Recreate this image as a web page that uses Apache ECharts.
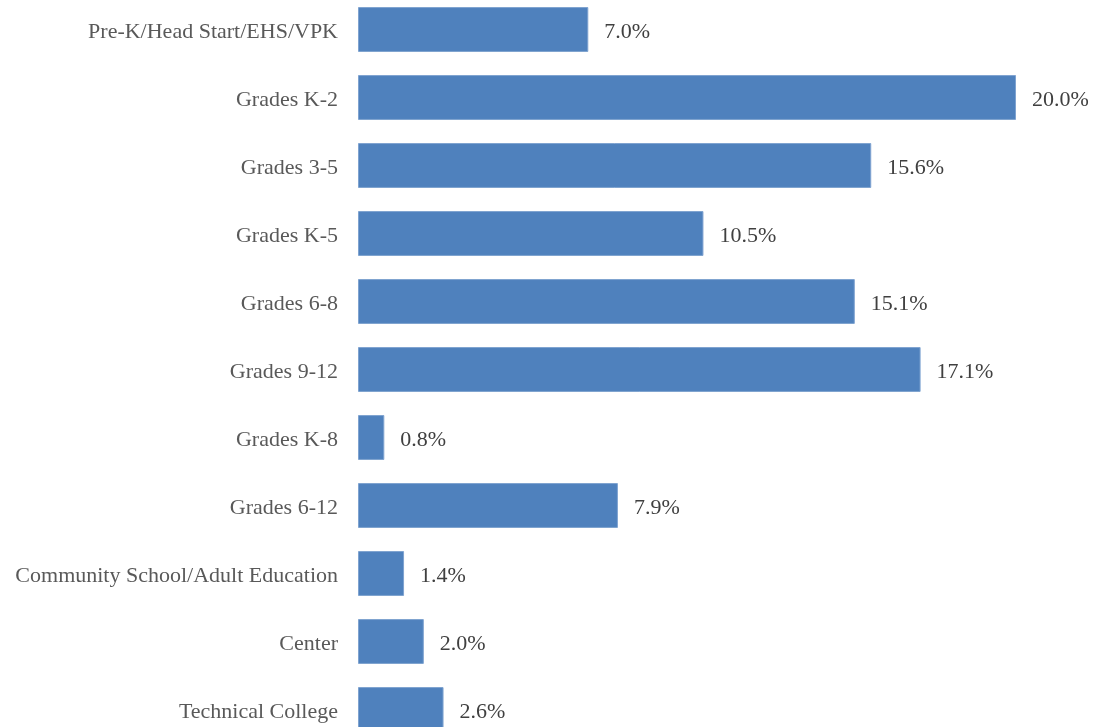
<!DOCTYPE html>
<html>
<head>
<meta charset="utf-8">
<script src="https://cdn.jsdelivr.net/npm/echarts@6/dist/echarts.min.js"></script>
<style>html,body{margin:0;padding:0;background:#fff;overflow:hidden}#c{width:1095px;height:727px}</style>
</head>
<body>
<div id="c"></div>
<script>
const categories = ["Pre-K/Head Start/EHS/VPK","Grades K-2","Grades 3-5","Grades K-5","Grades 6-8","Grades 9-12","Grades K-8","Grades 6-12","Community School/Adult Education","Center","Technical College"];
const values = [7.0,20.0,15.6,10.5,15.1,17.1,0.8,7.9,1.4,2.0,2.6];

const chart = echarts.init(document.getElementById('c'));
const font = '"Liberation Serif", serif';
chart.setOption({
  animation:false,
  grid:{left:358,right:79,top:-4.5,height:748,containLabel:false,outerBoundsMode:'none'},
  xAxis:{type:'value',min:0,max:20,show:false},
  yAxis:{type:'category',data:categories,inverse:true,
    axisLine:{show:false},axisTick:{show:false},splitLine:{show:false},
    axisLabel:{margin:20,color:'#595959',fontFamily:font,fontSize:22,
      formatter:v=>'{a|'+v+'}',
      rich:{a:{color:'#595959',fontFamily:font,fontSize:22,padding:[6,0,0,0]}}}},
  series:[{type:'bar',data:values,barCategoryGap:'34%',
    itemStyle:{color:'#4F81BD',borderColor:'#7FA3D0',borderWidth:1},
    label:{show:true,position:'right',distance:16,offset:[0,3],color:'#404040',fontFamily:font,fontSize:22,
      formatter:p=>p.value.toFixed(1)+'%'}}]
});
</script>
</body>
</html>
